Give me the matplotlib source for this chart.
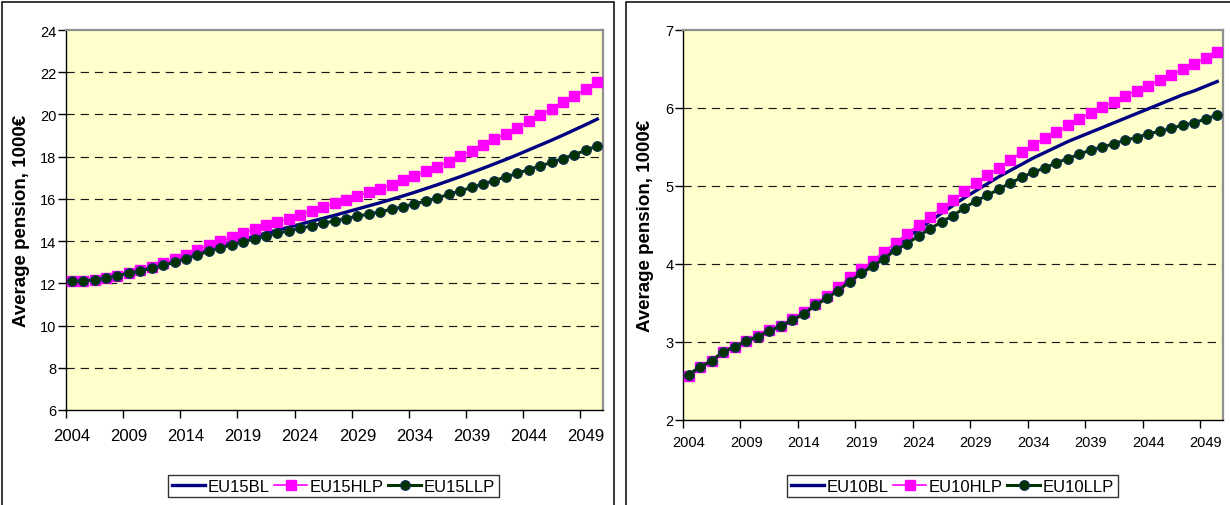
import numpy as np
import matplotlib.pyplot as plt
from matplotlib.patches import Rectangle

plt.rcParams['font.family'] = ['Liberation Sans', 'DejaVu Sans']

years = list(range(2004, 2051))

# average pension, thousand euro
eu15_bl = [12.10, 12.11, 12.17, 12.26, 12.38, 12.50, 12.62, 12.76, 12.90, 13.06,
           13.23, 13.41, 13.59, 13.76, 13.93, 14.08, 14.23, 14.38, 14.52, 14.66,
           14.80, 14.94, 15.08, 15.22, 15.37, 15.52, 15.67, 15.82, 15.98, 16.14,
           16.31, 16.49, 16.67, 16.86, 17.05, 17.25, 17.45, 17.66, 17.87, 18.09,
           18.32, 18.55, 18.78, 19.02, 19.27, 19.52, 19.78]
eu15_hlp = [12.11, 12.12, 12.17, 12.26, 12.37, 12.49, 12.62, 12.77, 12.94, 13.13,
            13.33, 13.58, 13.80, 14.00, 14.18, 14.37, 14.56, 14.74, 14.90, 15.06,
            15.25, 15.44, 15.62, 15.79, 15.96, 16.13, 16.31, 16.49, 16.68, 16.88,
            17.08, 17.30, 17.53, 17.77, 18.02, 18.28, 18.55, 18.82, 19.09, 19.38,
            19.67, 19.96, 20.26, 20.57, 20.88, 21.20, 21.52]
eu15_llp = [12.10, 12.10, 12.17, 12.24, 12.36, 12.48, 12.58, 12.72, 12.85, 13.00,
            13.17, 13.35, 13.52, 13.67, 13.83, 13.97, 14.10, 14.24, 14.37, 14.49,
            14.60, 14.72, 14.84, 14.96, 15.07, 15.18, 15.28, 15.39, 15.51, 15.63,
            15.76, 15.90, 16.05, 16.21, 16.38, 16.54, 16.70, 16.87, 17.04, 17.21,
            17.39, 17.56, 17.73, 17.91, 18.10, 18.30, 18.52]

eu10_bl = [2.58, 2.68, 2.76, 2.87, 2.94, 3.01, 3.07, 3.14, 3.21, 3.28,
           3.37, 3.47, 3.57, 3.67, 3.78, 3.89, 3.99, 4.10, 4.21, 4.33,
           4.45, 4.55, 4.65, 4.75, 4.85, 4.94, 5.03, 5.12, 5.20, 5.28,
           5.36, 5.43, 5.50, 5.57, 5.63, 5.69, 5.75, 5.81, 5.87, 5.93,
           5.99, 6.05, 6.11, 6.17, 6.22, 6.28, 6.34]
eu10_hlp = [2.57, 2.68, 2.76, 2.87, 2.94, 3.01, 3.08, 3.15, 3.21, 3.29,
            3.38, 3.49, 3.59, 3.70, 3.83, 3.93, 4.04, 4.16, 4.27, 4.39,
            4.50, 4.60, 4.72, 4.82, 4.93, 5.04, 5.14, 5.23, 5.33, 5.44,
            5.53, 5.61, 5.69, 5.78, 5.86, 5.94, 6.01, 6.08, 6.16, 6.22,
            6.28, 6.36, 6.42, 6.50, 6.57, 6.64, 6.72]
eu10_llp = [2.58, 2.68, 2.76, 2.87, 2.94, 3.01, 3.07, 3.14, 3.20, 3.28,
            3.36, 3.47, 3.56, 3.66, 3.77, 3.88, 3.97, 4.07, 4.18, 4.26,
            4.36, 4.45, 4.54, 4.62, 4.72, 4.81, 4.88, 4.96, 5.04, 5.11,
            5.18, 5.23, 5.30, 5.35, 5.41, 5.46, 5.50, 5.54, 5.59, 5.62,
            5.67, 5.70, 5.74, 5.78, 5.81, 5.86, 5.91]

W, H = 1230, 506
fig = plt.figure(figsize=(W / 100, H / 100), dpi=100)

# chart frames
fig.add_artist(Rectangle((2 / W, -0.05), 612 / W, 1.05 - 3 / H, transform=fig.transFigure,
                         fill=False, ec='black', lw=1.1))
fig.add_artist(Rectangle((625.5 / W, -0.05), 0.5, 1.05 - 3 / H, transform=fig.transFigure,
                         fill=False, ec='black', lw=1.1))


def draw_panel(ax, bl, hlp, llp, names, yticks, xfont, xpad, ylab_x, leg_x):
    x = np.arange(len(years))
    ax.set_facecolor('#FFFFCC')
    for v in yticks[1:-1]:
        ax.axhline(v, color='#1a1a1a', lw=0.85, ls=(0, (7, 5)), zorder=1)
    ax.plot(x, bl, color='#000080', lw=2.4, label=names[0], zorder=3)
    ax.plot(x, hlp, color='#FF00FF', lw=1.2, marker='s', ms=7.2, mec='#FF00FF',
            label=names[1], zorder=4)
    ax.plot(x, llp, color='#003300', lw=2.2, marker='o', ms=7, mfc='#003300',
            mec='#10305a', mew=0.8, label=names[2], zorder=5)

    ax.set_xlim(-0.5, len(years) - 0.5)
    ax.set_ylim(yticks[0], yticks[-1])
    ax.set_yticks(yticks)
    ax.tick_params(axis='y', length=6, width=1, pad=1, labelsize=10.5)

    # tick marks between categories, labels centred on categories
    ax.set_xticks(np.arange(-0.5, len(years) - 1, 5))
    ax.set_xticklabels([])
    ax.set_xticks(x[::5], minor=True)
    ax.set_xticklabels([str(y) for y in years[::5]], minor=True)
    ax.tick_params(axis='x', which='major', length=6, width=1)
    ax.tick_params(axis='x', which='minor', length=0, pad=xpad, labelsize=xfont)

    for s in ['top', 'right']:
        ax.spines[s].set_color('#909090')
        ax.spines[s].set_linewidth(1.6)
    for s in ['left', 'bottom']:
        ax.spines[s].set_color('black')
        ax.spines[s].set_linewidth(1.0)

    ax.set_ylabel('Average pension, 1000€', fontsize=13.5, fontweight='bold')
    ax.yaxis.set_label_coords(ylab_x, 0.5)

    leg = fig.legend(handles=ax.get_lines()[-3:], loc='center', ncol=3,
                     bbox_to_anchor=(leg_x, 0.037), fontsize=12, frameon=True,
                     fancybox=False, edgecolor='black', handlelength=2.0,
                     handletextpad=0.15, columnspacing=0.25, borderpad=0.22,
                     borderaxespad=0)
    leg.get_frame().set_linewidth(1.0)


ax1 = fig.add_axes([66 / W, (H - 411) / H, 537 / W, 380 / H])
ax2 = fig.add_axes([683 / W, (H - 421) / H, 540 / W, 390 / H])

draw_panel(ax1, eu15_bl, eu15_hlp, eu15_llp, ['EU15BL', 'EU15HLP', 'EU15LLP'],
           list(range(6, 25, 2)), 12, 13, -0.067, 333.5 / W)
draw_panel(ax2, eu10_bl, eu10_hlp, eu10_llp, ['EU10BL', 'EU10HLP', 'EU10LLP'],
           list(range(2, 8)), 10.5, 10.5, -0.054, 952.5 / W)

fig.savefig('out.png', dpi=100)
